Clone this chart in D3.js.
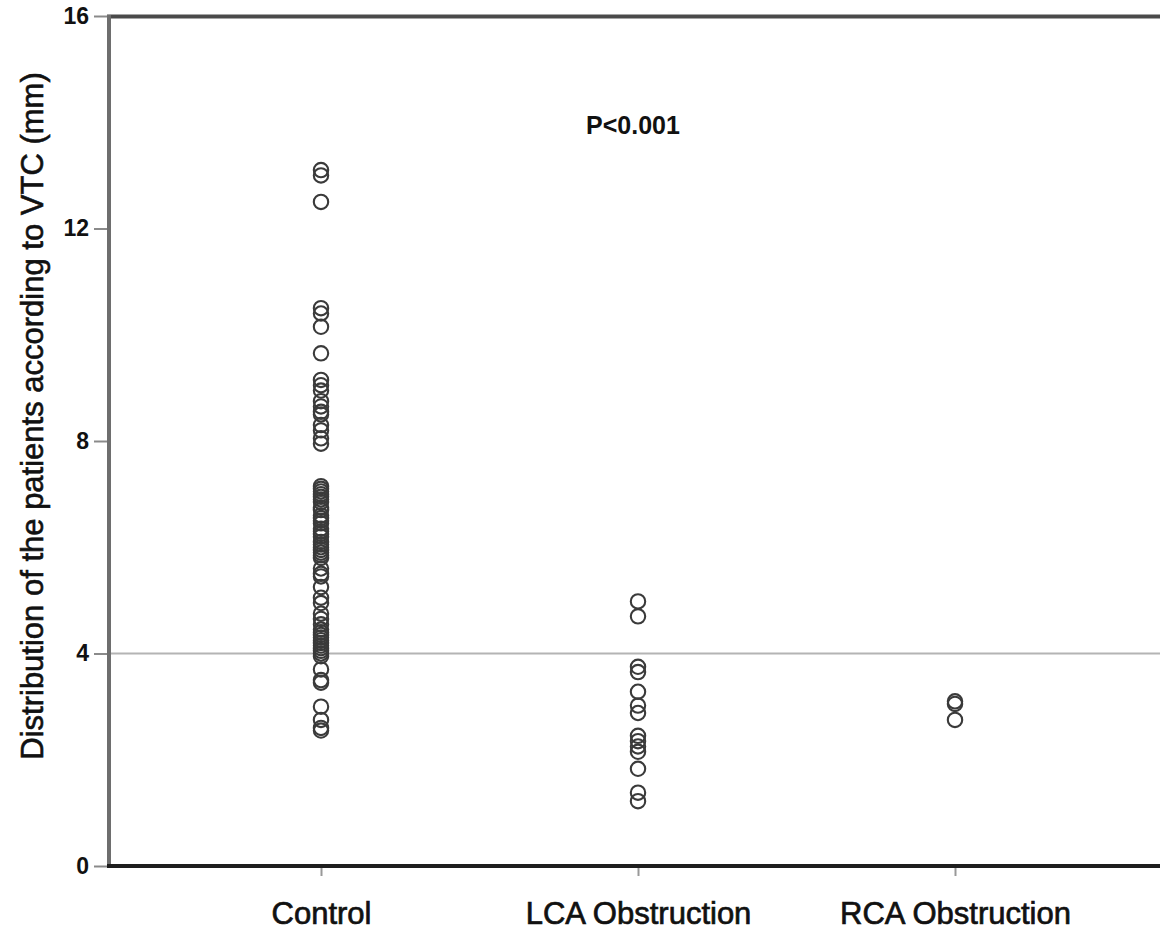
<!DOCTYPE html>
<html>
<head>
<meta charset="utf-8">
<script src="https://cdn.jsdelivr.net/npm/d3@7/dist/d3.min.js"></script>
<style>
  html, body { margin: 0; padding: 0; background: #fff; }
  svg { display: block; }
  text { font-family: Arial, "Liberation Sans", sans-serif; fill: #111; }
</style>
</head>
<body>
<svg id="chart" width="1160" height="933"></svg>
<script>
// Groups shown along the x axis
const categories = ["Control", "LCA Obstruction", "RCA Obstruction"];

// VTC measurements (mm) per group
const controlValues = [
  13.1, 13.0, 12.5, 10.5, 10.4, 10.15, 9.65, 9.15, 9.05, 8.95, 8.75, 8.65, 8.55, 8.5,
  8.3, 8.2, 8.05, 7.95,
  7.15, 7.1, 7.05, 7.0, 6.95, 6.9, 6.85, 6.75, 6.7, 6.6, 6.55, 6.5, 6.45, 6.35, 6.3,
  6.25, 6.2, 6.1, 6.05, 6.0, 5.95, 5.9, 5.85, 5.8,
  5.6, 5.5, 5.45, 5.25, 5.05, 4.95,
  4.75, 4.65, 4.55, 4.45, 4.4, 4.35, 4.3, 4.25, 4.2, 4.15, 4.1, 4.05, 4.0, 3.95,
  3.7, 3.5, 3.45, 3.0, 2.75, 2.6, 2.55
];
const lcaValues = [4.98, 4.7, 3.75, 3.65, 3.28, 3.02, 2.88, 2.45, 2.35, 2.25, 2.15, 1.83, 1.38, 1.22];
const rcaValues = [3.1, 3.05, 2.75];

const yTicks = [0, 4, 8, 12, 16];
const cutoff = 4;
const yTitle = "Distribution of the patients according to VTC (mm)";
const pLabel = "P<0.001";

const groups = [
  { name: categories[0], values: controlValues },
  { name: categories[1], values: lcaValues },
  { name: categories[2], values: rcaValues }
];

const W = 1160, H = 933;
const plotLeft = 109, plotTop = 16, plotBottom = 866, plotRight = W;

const svg = d3.select("#chart");

const y = d3.scaleLinear().domain([0, 16]).range([plotBottom, plotTop]);
const x = d3.scalePoint().domain(categories).range([321, 955]);

// reference line at the 4 mm cutoff
svg.append("line")
  .attr("x1", plotLeft).attr("x2", plotRight)
  .attr("y1", y(cutoff)).attr("y2", y(cutoff))
  .attr("stroke", "#b4b4b4").attr("stroke-width", 2);

// top frame line
svg.append("line")
  .attr("x1", plotLeft - 2).attr("x2", plotRight)
  .attr("y1", y(16) + 0.5).attr("y2", y(16) + 0.5)
  .attr("stroke", "#4a4a4a").attr("stroke-width", 4);

// y axis
const yAxis = svg.append("g")
  .attr("transform", `translate(${plotLeft},0)`)
  .call(d3.axisLeft(y).tickValues(yTicks).tickSize(15).tickPadding(5).tickFormat(d3.format("d")));
yAxis.select(".domain").remove();
yAxis.selectAll(".tick line").attr("stroke", "#8a8a8a").attr("stroke-width", 2);
yAxis.selectAll(".tick text")
  .attr("font-size", 23).attr("font-weight", "bold")
  .attr("font-family", "Arial, 'Liberation Sans', sans-serif")
  .attr("fill", "#222");
svg.append("line")
  .attr("x1", plotLeft).attr("x2", plotLeft)
  .attr("y1", y(16) - 1).attr("y2", y(0) + 1)
  .attr("stroke", "#6e6e6e").attr("stroke-width", 4);

// x axis
const xAxis = svg.append("g")
  .attr("transform", `translate(0,${plotBottom})`)
  .call(d3.axisBottom(x).tickSize(10).tickPadding(26));
xAxis.select(".domain").remove();
xAxis.selectAll(".tick line").attr("stroke", "#999").attr("stroke-width", 2);
xAxis.selectAll(".tick text")
  .attr("font-size", 31)
  .attr("font-family", "Arial, 'Liberation Sans', sans-serif")
  .attr("fill", "#111")
  .attr("stroke", "#111").attr("stroke-width", 0.7);
svg.append("line")
  .attr("x1", plotLeft - 2).attr("x2", plotRight)
  .attr("y1", y(0)).attr("y2", y(0))
  .attr("stroke", "#1e1e1e").attr("stroke-width", 4);

// y axis title
svg.append("text")
  .attr("transform", `translate(43,${(y(16) + y(0)) / 2 - 25}) rotate(-90)`)
  .attr("text-anchor", "middle")
  .attr("font-size", 31)
  .attr("stroke", "#111").attr("stroke-width", 0.6)
  .text(yTitle);

// significance label
svg.append("text")
  .attr("x", 633).attr("y", 134)
  .attr("text-anchor", "middle")
  .attr("font-size", 25).attr("font-weight", "bold")
  .text(pLabel);

// individual patients as open circles
groups.forEach(g => {
  svg.append("g").selectAll("circle")
    .data(g.values)
    .join("circle")
    .attr("cx", x(g.name))
    .attr("cy", d => y(d))
    .attr("r", 7.2)
    .attr("fill", "none")
    .attr("stroke", "#3a3a3a")
    .attr("stroke-width", 2.1);
});
</script>
</body>
</html>
